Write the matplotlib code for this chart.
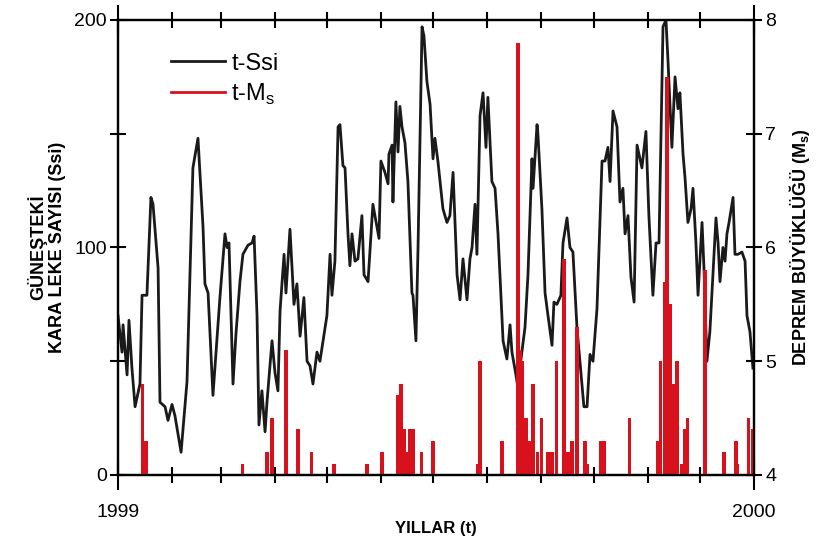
import numpy as np
import matplotlib.pyplot as plt
from matplotlib.lines import Line2D
from matplotlib.ticker import FixedLocator

plt.rcParams['font.family'] = ['Liberation Sans', 'DejaVu Sans']

# gunes lekesi sayisi (gun, deger) - 1999
ssi_gun = [0, 2.3, 2.9, 5.2, 6.3, 8.0, 9.8, 12.6, 13.8, 16.6, 18.9, 20.1, 23.0, 24.1, 27.0,
           28.7, 31.0, 32.7, 36.2, 39.6, 43.0, 45.9, 48.8, 49.9, 51.7, 54.5, 58.5, 61.4, 62.6,
           63.7, 66.0, 67.7, 70.0, 71.7, 74.6, 76.9, 78.1, 79.8, 80.9, 82.6, 84.4, 85.5, 87.2,
           88.4, 90.1, 91.8, 93.0, 95.3, 96.4, 98.7, 99.9, 101.0, 102.7, 104.5, 106.7, 108.5,
           110.2, 111.9, 114.2, 115.9, 117.1, 119.9, 121.7, 122.8, 124.5, 126.3, 127.4, 129.1,
           130.3, 132.0, 133.1, 134.3, 136.0, 137.7, 140.0, 141.2, 143.5, 146.3, 149.8, 150.9,
           153.2, 155.0, 155.5, 157.3, 157.8, 159.5, 160.7, 161.8, 163.0, 164.7, 166.4, 168.7,
           169.3, 171.0, 172.2, 174.5, 175.6, 177.3, 179.1, 180.8, 181.9, 183.6, 186.5, 188.8,
           190.5, 192.3, 193.4, 194.6, 196.3, 198.0, 200.3, 202.0, 203.2, 204.9, 206.0, 207.8,
           209.5, 211.2, 212.3, 214.6, 216.4, 218.1, 221.0, 223.2, 225.0, 226.1, 228.4, 229.6,
           231.3, 233.6, 235.3, 237.6, 238.2, 240.5, 241.0, 243.3, 245.1, 246.8, 249.1, 250.2,
           251.9, 254.2, 255.4, 257.7, 259.4, 261.1, 263.4, 265.1, 267.4, 269.2, 270.9, 272.6,
           274.9, 277.8, 279.5, 281.2, 282.4, 284.1, 286.4, 288.1, 289.8, 291.0, 292.7, 294.4,
           296.2, 297.9, 300.7, 303.0, 304.7, 307.0, 308.8, 310.5, 312.8, 314.5, 315.6, 317.9,
           319.7, 321.4, 322.5, 324.3, 325.4, 327.1, 328.9, 330.0, 331.7, 332.9, 335.2, 336.3,
           338.0, 339.7, 341.5, 343.2, 344.4, 345.5, 347.2, 348.4, 349.5, 350.7, 353.0, 354.1,
           355.8, 358.1, 359.9, 361.0, 362.7, 364.4]
ssi_deger = [70, 54, 66, 44, 68, 47, 30, 40, 79, 79, 122, 119, 91, 32, 30,
             24, 31, 26, 10, 41, 135, 148, 109, 84, 80, 35, 78, 106, 100,
             102, 40, 62, 85, 97, 101, 102, 105, 70, 22, 37, 19, 32, 48,
             59, 45, 37, 72, 97, 80, 108, 91, 75, 84, 61, 78, 50,
             48, 40, 54, 50, 56, 70, 97, 79, 94, 153, 154, 136,
             135, 106, 92, 106, 94, 95, 114, 88, 85, 119, 104, 138,
             133, 128, 141, 145, 120, 164, 142, 162, 153, 146, 129, 80,
             79, 59, 100, 197, 193, 173, 163, 139, 148, 138, 117, 111,
             114, 133, 111, 88, 77, 95, 77, 95, 100, 119, 97, 158,
             168, 144, 166, 129, 126, 106, 59, 51, 66, 54, 44, 38,
             51, 65, 88, 139, 126, 154, 150, 117, 80, 70, 57, 76,
             75, 79, 102, 113, 100, 98, 65, 50, 30, 30, 53, 50,
             73, 138, 138, 144, 129, 160, 153, 120, 126, 106, 114, 87,
             76, 145, 135, 151, 114, 79, 102, 102, 197, 200, 183, 144,
             175, 161, 168, 141, 131, 111, 117, 126, 102, 79, 111, 91,
             50, 63, 89, 113, 102, 85, 100, 94, 106, 111, 122, 97,
             97, 98, 94, 70, 63, 47]

# deprem buyuklugu (gun, Ms)
ms_gun = [14.3, 16.1, 71.7, 85.5, 88.4, 96.4, 103.3, 111.3, 124.0, 142.9, 151.5, 160.7, 162.4,
          164.2, 165.9, 167.6, 169.3, 174.0, 180.8, 206.6, 207.8, 220.4, 229.6, 230.7, 231.9,
          234.2, 236.5, 238.2, 241.0, 243.3, 246.8, 249.1, 251.9, 256.0, 258.3, 260.6, 263.4,
          268.0, 269.7, 277.2, 278.9, 293.8, 309.9, 311.6, 313.9, 315.1, 316.8, 318.5, 320.8,
          323.7, 325.4, 327.1, 336.9, 347.8, 354.7, 355.8, 362.1, 364.4]
ms_deger = [4.8, 4.3, 4.1, 4.2, 4.5, 5.1, 4.4, 4.2, 4.1, 4.1, 4.2, 4.7, 4.8,
            4.4, 4.2, 4.4, 4.4, 4.2, 4.3, 4.1, 5.0, 4.3, 7.8, 5.1, 5.0,
            4.5, 4.3, 4.8, 4.2, 4.5, 4.2, 4.2, 5.0, 5.9, 4.2, 4.3, 5.3,
            4.3, 4.1, 4.3, 4.3, 4.5, 4.3, 5.0, 5.7, 7.5, 5.5, 4.8, 5.0,
            4.1, 4.4, 4.5, 5.8, 4.2, 4.3, 4.1, 4.5, 4.4]

ay_sinir = [31, 59, 90, 120, 151, 181, 212, 243, 273, 304, 334]

fig = plt.figure(figsize=(8.24, 5.49), dpi=100)
ax = fig.add_axes([0.1432, 0.1348, 0.7718, 0.8288])
ax2 = ax.twinx()

ax.plot(ssi_gun, ssi_deger, color='#1a1a1a', lw=2.0, zorder=3)
ax2.bar(ms_gun, np.array(ms_deger) - 4, bottom=4, width=1.8, color='#d8121c',
        linewidth=0, align='center')

ax.set_xlim(0, 365)
ax.set_ylim(0, 200)
ax2.set_ylim(4, 8)

ax.set_xticks([0, 365])
ax.set_xticklabels(['1999', '2000'], fontsize=14)
ax.xaxis.set_minor_locator(FixedLocator(ay_sinir))
ax.set_yticks([0, 100, 200])
ax.set_yticklabels(['0', '100', '200'], fontsize=14)
ax.yaxis.set_minor_locator(FixedLocator([50, 150]))
ax2.set_yticks([4, 5, 6, 7, 8])
ax2.set_yticklabels(['4', '5', '6', '7', '8'], fontsize=14)

ax.tick_params(axis='x', which='major', direction='inout', length=22, width=1.5,
               top=True, pad=10)
ax.tick_params(axis='x', which='minor', direction='inout', length=11, width=1.5, top=True)
ax.tick_params(axis='y', which='both', direction='inout', length=12, width=1.5, pad=2)
ax2.tick_params(axis='y', direction='inout', length=12, width=1.5, pad=2)

for a in (ax, ax2):
    for s in a.spines.values():
        s.set_linewidth(1.6)

ax.set_xlabel('YILLAR (t)', fontsize=12, fontweight='bold', labelpad=0)
ax.set_ylabel('GÜNEŞTEKİ\nKARA LEKE SAYISI (Ssi)', fontsize=13, fontweight='bold',
              labelpad=6, linespacing=1.15)
ax2.set_ylabel('DEPREM BÜYÜKLÜĞÜ (M$_\\mathregular{s}$)', fontsize=13, fontweight='bold',
               labelpad=8)

handles = [Line2D([], [], color='#1a1a1a', lw=2.0),
           Line2D([], [], color='#d8121c', lw=2.0)]
ax.legend(handles, ['t-Ssi', 't-M$_\\mathregular{s}$'], loc='upper left',
          bbox_to_anchor=(0.05, 0.975), frameon=False, fontsize=17,
          handlelength=2.3, handletextpad=0.25, labelspacing=0.3)

fig.savefig('out.png', dpi=100)
